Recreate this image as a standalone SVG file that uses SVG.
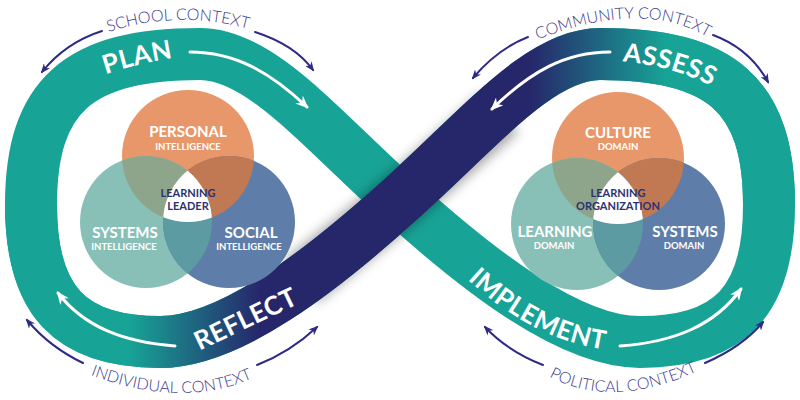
<svg xmlns="http://www.w3.org/2000/svg" width="800" height="400" viewBox="0 0 800 400">
<style>
.lbl{font-family:Lato,"Liberation Sans",sans-serif;font-weight:700;font-size:26px;fill:#ffffff;letter-spacing:0.5px}
.ctx{font-family:Lato,"Liberation Sans",sans-serif;font-weight:300;font-size:16px;fill:#3b3a8c}
.big{font-family:Lato,"Liberation Sans",sans-serif;font-weight:700;font-size:15px;fill:#ffffff;text-anchor:middle}
.sm{font-family:Lato,"Liberation Sans",sans-serif;font-weight:700;font-size:9.5px;fill:#ffffff;text-anchor:middle}
.ctr{font-family:Lato,"Liberation Sans",sans-serif;font-weight:700;font-size:11px;fill:#2b3270;text-anchor:middle}
.warr{fill:none;stroke:#ffffff;stroke-width:3;stroke-linecap:round;marker-end:url(#wh)}
.narr{fill:none;stroke:#2e2a86;stroke-width:2;stroke-linecap:round;marker-end:url(#nh)}
.or{fill:#e8976a}.tl{fill:#88c0b8}.bl{fill:#5e7ea9}
.ot{fill:#8ea58b}.ob{fill:#c17953}.tb{fill:#5c9ba2}.wt{fill:#ffffff}
</style>
<defs>
<linearGradient id="gNavy" gradientUnits="userSpaceOnUse" x1="31" y1="0" x2="769" y2="0">
<stop offset="0" stop-color="#17a396"/>
<stop offset="0.134" stop-color="#17a396"/>
<stop offset="0.31" stop-color="#26276b"/>
<stop offset="0.676" stop-color="#26276b"/>
<stop offset="0.859" stop-color="#17a396"/>
<stop offset="1" stop-color="#17a396"/>
</linearGradient>
<filter id="blur" x="-30%" y="-30%" width="160%" height="160%"><feGaussianBlur stdDeviation="6"/></filter>
<marker id="wh" viewBox="0 0 12 10" refX="10" refY="5" markerWidth="13" markerHeight="11" orient="auto" markerUnits="userSpaceOnUse"><path d="M0,0 L12,5 L0,10 L3.5,5 Z" fill="#ffffff"/></marker>
<marker id="nh" viewBox="0 0 10 8" refX="8" refY="4" markerWidth="10" markerHeight="8" orient="auto" markerUnits="userSpaceOnUse"><path d="M0,0 L10,4 L0,8 L3,4 Z" fill="#2e2a86"/></marker>
<path id="pPlan" d="M88,81 L106.5,74 Q139,63.4 172.7,58 L192,55"/>
<path id="pAssess" d="M608,60 L628,62 Q672.5,67 707,84 L725,92"/>
<path id="pReflect" d="M180.6,359.8 L198.7,351.2 Q254.25,324.9 300,303 L318,294.4"/>
<path id="pImpl" d="M451.8,264.7 L466.4,278.4 Q531.45,339.25 606.3,349.9 L626,352.7"/>
<path id="pSchool" d="M93,37 L112,31 Q177.5,10.5 245,28 L264,33"/>
<path id="pComm" d="M524,44.4 L542.8,37.5 Q641.25,1.05 702.7,34.4 L720.3,43.9"/>
<path id="pIndiv" d="M73.7,368.8 L92.5,375.7 Q182.4,408.7 250.7,378.9 L269,371"/>
<path id="pPol" d="M534,369 L551.9,378.1 Q612.75,408.75 694.6,372.4 L712.9,364.3"/>
<clipPath id="cLP"><circle cx="188" cy="156" r="66"/></clipPath>
<clipPath id="cLS"><circle cx="146" cy="222" r="66"/></clipPath>
<clipPath id="cRC"><circle cx="618" cy="158" r="66"/></clipPath>
<clipPath id="cRL"><circle cx="577" cy="224" r="66"/></clipPath>
</defs>

<g id="band">
<path d="M400,200 C320,128 260,54 200,54 C78,54 31,96 31,205 C31,301 70,342 160,342 C230,342 320,272 400,200 C480,128 540,54 600,54 C722,54 769,96 769,205 C769,301 730,342 640,342 C570,342 480,272 400,200 Z" fill="none" stroke="#17a396" stroke-width="52"/>
<path d="M300,282 C340,250 370,226 400,200 C430,174 460,148 500,112" fill="none" stroke="#000000" stroke-opacity="0.35" stroke-width="54" filter="url(#blur)"/>
<path d="M31,205 C31,301 70,342 160,342 C230,342 320,272 400,200 C480,128 540,54 600,54 C722,54 769,96 769,205" fill="none" stroke="url(#gNavy)" stroke-width="52"/>
</g>

<g id="plan"><text class="lbl"><textPath href="#pPlan" startOffset="50%" text-anchor="middle">PLAN</textPath></text></g>
<g id="assess"><text class="lbl"><textPath href="#pAssess" startOffset="50%" text-anchor="middle">ASSESS</textPath></text></g>
<g id="reflect"><text class="lbl"><textPath href="#pReflect" startOffset="50%" text-anchor="middle">REFLECT</textPath></text></g>
<g id="implement"><text class="lbl"><textPath href="#pImpl" startOffset="50%" text-anchor="middle">IMPLEMENT</textPath></text></g>

<g id="school-context"><text class="ctx"><textPath href="#pSchool" startOffset="50%" text-anchor="middle">SCHOOL CONTEXT</textPath></text></g>
<g id="community-context"><text class="ctx"><textPath href="#pComm" startOffset="50%" text-anchor="middle">COMMUNITY CONTEXT</textPath></text></g>
<g id="individual-context"><text class="ctx"><textPath href="#pIndiv" startOffset="50%" text-anchor="middle">INDIVIDUAL CONTEXT</textPath></text></g>
<g id="political-context"><text class="ctx"><textPath href="#pPol" startOffset="50%" text-anchor="middle">POLITICAL CONTEXT</textPath></text></g>

<g id="connectors">
<path class="warr" d="M190,52 C235,52 270,72 307,107"/>
<path class="warr" d="M610,52 C565,52 530,72 492,109"/>
<path class="warr" d="M175,346 C125,342 85,328 58,293"/>
<path class="warr" d="M620,346 C675,342 715,325 741,289"/>
<path class="narr" d="M102,31 C80,38 58,52 42,72"/>
<path class="narr" d="M255,32 C280,40 300,52 313,70"/>
<path class="narr" d="M528,37 C505,46 488,60 473,78"/>
<path class="narr" d="M713,35 C740,45 757,62 768,82"/>
<path class="narr" d="M83,363 C60,352 42,338 27,320"/>
<path class="narr" d="M257,365 C280,356 300,343 317,327"/>
<path class="narr" d="M543,365 C520,356 500,343 485,327"/>
<path class="narr" d="M705,363 C728,353 748,340 763,322"/>
</g>

<g id="personal-intelligence"><circle class="or" cx="188" cy="156" r="66"/></g>
<g id="systems-intelligence"><circle class="tl" cx="146" cy="222" r="66"/></g>
<g id="social-intelligence"><circle class="bl" cx="229" cy="222" r="66"/></g>
<g id="leader-overlaps">
<g clip-path="url(#cLP)"><circle class="ot" cx="146" cy="222" r="66"/><circle class="ob" cx="229" cy="222" r="66"/></g>
<g clip-path="url(#cLS)"><circle class="tb" cx="229" cy="222" r="66"/></g>
<g clip-path="url(#cLP)"><g clip-path="url(#cLS)"><circle class="wt" cx="229" cy="222" r="66"/></g></g>
</g>
<g id="leader-labels">
<text class="big" x="188" y="137">PERSONAL</text>
<text class="sm" x="188" y="150">INTELLIGENCE</text>
<text class="big" x="125" y="238">SYSTEMS</text>
<text class="sm" x="124" y="250">INTELLIGENCE</text>
<text class="big" x="251" y="238">SOCIAL</text>
<text class="sm" x="249" y="250">INTELLIGENCE</text>
</g>
<g id="learning-leader">
<text class="ctr" x="188" y="197">LEARNING</text>
<text class="ctr" x="188" y="210">LEADER</text>
</g>

<g id="culture-domain"><circle class="or" cx="618" cy="158" r="66"/></g>
<g id="learning-domain"><circle class="tl" cx="577" cy="224" r="66"/></g>
<g id="systems-domain"><circle class="bl" cx="659" cy="224" r="66"/></g>
<g id="org-overlaps">
<g clip-path="url(#cRC)"><circle class="ot" cx="577" cy="224" r="66"/><circle class="ob" cx="659" cy="224" r="66"/></g>
<g clip-path="url(#cRL)"><circle class="tb" cx="659" cy="224" r="66"/></g>
<g clip-path="url(#cRC)"><g clip-path="url(#cRL)"><circle class="wt" cx="659" cy="224" r="66"/></g></g>
</g>
<g id="org-labels">
<text class="big" x="618" y="138">CULTURE</text>
<text class="sm" x="618" y="150">DOMAIN</text>
<text class="big" x="555" y="237">LEARNING</text>
<text class="sm" x="554" y="249">DOMAIN</text>
<text class="big" x="685" y="237">SYSTEMS</text>
<text class="sm" x="684" y="249">DOMAIN</text>
</g>
<g id="learning-organization">
<text class="ctr" x="618" y="197">LEARNING</text>
<text class="ctr" x="618" y="210">ORGANIZATION</text>
</g>
</svg>
